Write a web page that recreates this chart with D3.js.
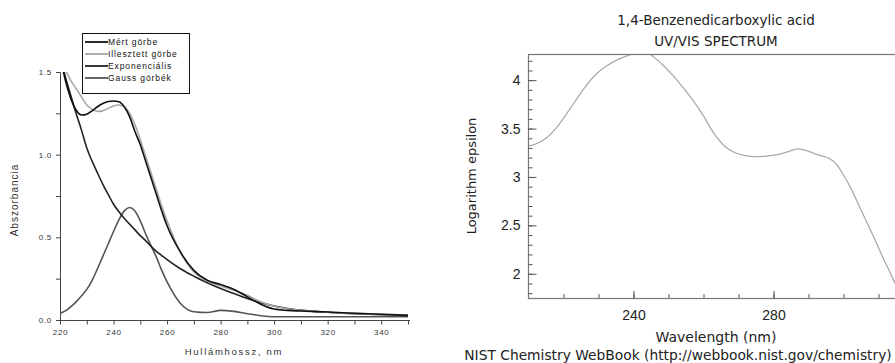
<!DOCTYPE html>
<html>
<head>
<meta charset="utf-8">
<script src="https://cdn.jsdelivr.net/npm/d3@7"></script>
<style>
  body { margin: 0; background: #fff; }
  svg { display: block; }
</style>
</head>
<body>
<main></main>
<script>
const width = 895;
const height = 363;

// ---------- left chart: measured / fitted spectrum ----------
const wlLeft = [220, 222, 224, 226, 228, 230, 232, 234, 236, 238, 240, 242, 244, 246, 248, 250,
  252, 254, 256, 258, 260, 265, 270, 275, 280, 285, 290, 295, 300, 305, 310, 320, 330, 340, 350];
const measured = [1.60, 1.45, 1.34, 1.27, 1.24, 1.245, 1.265, 1.29, 1.31, 1.322, 1.325, 1.32, 1.29, 1.23,
  1.14, 1.06, 0.96, 0.86, 0.76, 0.66, 0.57, 0.41, 0.30, 0.24, 0.215, 0.185, 0.14, 0.095, 0.066, 0.058,
  0.054, 0.048, 0.041, 0.035, 0.028];
const fitted = [1.65, 1.52, 1.45, 1.40, 1.35, 1.30, 1.275, 1.262, 1.265, 1.28, 1.295, 1.30, 1.29, 1.25,
  1.18, 1.09, 0.99, 0.89, 0.79, 0.69, 0.60, 0.41, 0.29, 0.235, 0.205, 0.18, 0.15, 0.11, 0.083, 0.068,
  0.058, 0.047, 0.04, 0.034, 0.03];
const expo = [1.62, 1.47, 1.36, 1.25, 1.15, 1.04, 0.96, 0.89, 0.82, 0.76, 0.70, 0.655, 0.615, 0.58,
  0.545, 0.51, 0.48, 0.445, 0.415, 0.39, 0.365, 0.31, 0.265, 0.225, 0.19, 0.16, 0.13, 0.105, 0.085,
  0.07, 0.06, 0.047, 0.038, 0.032, 0.028];
const gauss = [0.04, 0.055, 0.08, 0.11, 0.145, 0.185, 0.24, 0.31, 0.385, 0.46, 0.535, 0.605, 0.66, 0.68,
  0.66, 0.60, 0.52, 0.45, 0.38, 0.30, 0.23, 0.10, 0.05, 0.045, 0.058, 0.052, 0.038, 0.026, 0.02, 0.02,
  0.02, 0.02, 0.02, 0.02, 0.02];
const legendNames = ["Mért görbe", "Illesztett görbe", "Exponenciális", "Gauss görbék"];
const xTicksLeft = d3.range(220, 351, 10);
const yTicksLeft = [0, 0.25, 0.5, 0.75, 1.0, 1.25, 1.5];

// ---------- right chart: NIST spectrum ----------
const wlRight = [210, 212, 215, 218, 222, 226, 229, 232, 236, 239, 242, 245, 248, 251, 254, 257, 260,
  263, 266, 269, 272, 275, 278, 281, 284, 287, 290, 293, 296, 298, 300, 302, 305, 308, 311, 314, 316];
const logEps = [3.32, 3.34, 3.40, 3.51, 3.71, 3.92, 4.05, 4.14, 4.22, 4.26, 4.30, 4.26, 4.17, 4.06, 3.93,
  3.79, 3.63, 3.45, 3.32, 3.25, 3.22, 3.21, 3.215, 3.23, 3.26, 3.29, 3.265, 3.225, 3.19, 3.13, 3.02,
  2.89, 2.66, 2.43, 2.19, 1.96, 1.80];
const titleLines = ["1,4-Benzenedicarboxylic acid", "UV/VIS SPECTRUM"];
const yMajorRight = [2, 2.5, 3, 3.5, 4];
const xMajorRight = [240, 280];

const svg = d3.select('main')
  .append('svg')
  .attr('width', width)
  .attr('height', height);

// ================= left chart =================
const L = {left: 60, right: 408, top: 72, bottom: 320};
const xL = d3.scaleLinear().domain([220, 350]).range([L.left, L.right]);
const yL = d3.scaleLinear().domain([0, 1.5]).range([L.bottom, L.top]);

svg.append("clipPath").attr("id", "clipL")
  .append("rect")
  .attr("x", L.left).attr("y", L.top)
  .attr("width", L.right - L.left + 2).attr("height", L.bottom - L.top);

const gL = svg.append("g").style("font-family", "'Liberation Sans', Arial, sans-serif");

const xAxisL = gL.append("g")
  .attr("transform", `translate(0,${L.bottom + 0.5})`)
  .call(d3.axisBottom(xL).tickValues(xTicksLeft).tickSize(4).tickPadding(5)
    .tickFormat(d => d % 20 === 0 && d < 350 ? d : ""));
const yAxisL = gL.append("g")
  .attr("transform", `translate(${L.left},0)`)
  .call(d3.axisLeft(yL).tickValues(yTicksLeft).tickSize(4).tickPadding(4)
    .tickFormat(d => d % 0.5 === 0 ? d3.format(".1f")(d) : ""));
[xAxisL, yAxisL].forEach(a => {
  a.selectAll("path, line").attr("stroke", "#444");
  a.selectAll("text").attr("fill", "#333").style("font-size", "8px").style("letter-spacing", "0.7px");
});
xAxisL.select(".domain").attr("d", `M${L.left},0H${L.right + 2}`);

gL.append("text")
  .attr("transform", `translate(18,${(L.top + L.bottom) / 2 + 4}) rotate(-90)`)
  .attr("text-anchor", "middle")
  .attr("fill", "#333")
  .style("font-size", "10px")
  .style("letter-spacing", "1px")
  .text("Abszorbancia");
gL.append("text")
  .attr("x", (L.left + L.right) / 2).attr("y", 355)
  .attr("text-anchor", "middle")
  .attr("fill", "#333")
  .style("font-size", "9.5px")
  .style("letter-spacing", "1.7px")
  .text("Hullámhossz, nm");

const seriesL = [
  {name: legendNames[0], values: measured, color: "#111"},
  {name: legendNames[1], values: fitted, color: "#a8a8a8"},
  {name: legendNames[2], values: expo, color: "#222"},
  {name: legendNames[3], values: gauss, color: "#555"}
];
const lineL = d3.line().curve(d3.curveMonotoneX).x(d => xL(d[0])).y(d => yL(d[1]));

const curvesL = gL.append("g").attr("clip-path", "url(#clipL)");
// draw order: gauss, exponential, fitted, measured on top
[3, 2, 1, 0].forEach(i => {
  const s = seriesL[i];
  curvesL.append("path")
    .datum(wlLeft.map((w, j) => [w, s.values[j]]))
    .attr("fill", "none")
    .attr("stroke", s.color)
    .attr("stroke-width", 1.6)
    .attr("d", lineL);
});

// legend
const legend = gL.append("g");
legend.append("rect")
  .attr("x", 82.5).attr("y", 33.5).attr("width", 107).attr("height", 60)
  .attr("fill", "#fff").attr("stroke", "#111").attr("stroke-width", 1);
seriesL.forEach((s, i) => {
  const yy = 42 + i * 12;
  legend.append("line")
    .attr("x1", 85).attr("x2", 108).attr("y1", yy).attr("y2", yy)
    .attr("stroke", s.color).attr("stroke-width", 1.8);
  legend.append("text")
    .attr("x", 108).attr("y", yy + 3)
    .attr("fill", "#111")
    .style("font-size", "8.5px")
    .style("letter-spacing", "0.9px")
    .text(s.name);
});

// ================= right chart =================
const R = {left: 528.5, top: 54, bottom: 298};
const xR = d3.scaleLinear().domain([210, 320]).range([R.left, R.left + 385]);
const yR = d3.scaleLinear().domain([1.75, 4.27]).range([R.bottom, R.top]);

svg.append("clipPath").attr("id", "clipR")
  .append("rect")
  .attr("x", R.left).attr("y", R.top)
  .attr("width", 400).attr("height", R.bottom - R.top);

const gR = svg.append("g").style("font-family", "'DejaVu Sans', Verdana, sans-serif");

gR.append("path")
  .datum(wlRight.map((w, j) => [w, logEps[j]]))
  .attr("clip-path", "url(#clipR)")
  .attr("fill", "none")
  .attr("stroke", "#aaa")
  .attr("stroke-width", 1.3)
  .attr("d", d3.line().curve(d3.curveMonotoneX).x(d => xR(d[0])).y(d => yR(d[1])));

// frame
gR.append("rect")
  .attr("x", R.left).attr("y", R.top + 0.5)
  .attr("width", 385).attr("height", R.bottom - R.top)
  .attr("fill", "none").attr("stroke", "#777").attr("stroke-width", 1.2);

const yMinor = gR.append("g").attr("transform", `translate(${R.left},0)`)
  .call(d3.axisLeft(yR).tickValues(d3.range(18, 43).map(d => d / 10)).tickSize(-4).tickFormat(""));
const yMajor = gR.append("g").attr("transform", `translate(${R.left},0)`)
  .call(d3.axisLeft(yR).tickValues(yMajorRight).tickSize(-8).tickPadding(8).tickFormat(d3.format("")));
const xMinor = gR.append("g").attr("transform", `translate(0,${R.bottom})`)
  .call(d3.axisBottom(xR).tickValues(d3.range(220, 320, 10)).tickSize(-4).tickFormat(""));
const xMajor = gR.append("g").attr("transform", `translate(0,${R.bottom})`)
  .call(d3.axisBottom(xR).tickValues(xMajorRight).tickSize(-7).tickPadding(12));
[yMinor, yMajor, xMinor, xMajor].forEach(a => {
  a.select(".domain").remove();
  a.selectAll("line").attr("stroke", "#555");
  a.selectAll("text").attr("fill", "#222").style("font-size", "14px");
});

gR.append("text")
  .attr("transform", `translate(476,176) rotate(-90)`)
  .attr("text-anchor", "middle").attr("fill", "#222")
  .style("font-size", "13px")
  .text("Logarithm epsilon");

gR.selectAll(".title")
  .data(titleLines)
  .enter()
  .append("text")
  .attr("x", 716).attr("y", (d, i) => 25 + i * 21)
  .attr("text-anchor", "middle").attr("fill", "#222")
  .style("font-size", "13.5px")
  .text(d => d);

gR.append("text")
  .attr("x", 716).attr("y", 342)
  .attr("text-anchor", "middle").attr("fill", "#222")
  .style("font-size", "14px")
  .text("Wavelength (nm)");
gR.append("text")
  .attr("x", 678).attr("y", 360)
  .attr("text-anchor", "middle").attr("fill", "#222")
  .style("font-size", "13.8px")
  .text("NIST Chemistry WebBook (http://webbook.nist.gov/chemistry)");
</script>
</body>
</html>
